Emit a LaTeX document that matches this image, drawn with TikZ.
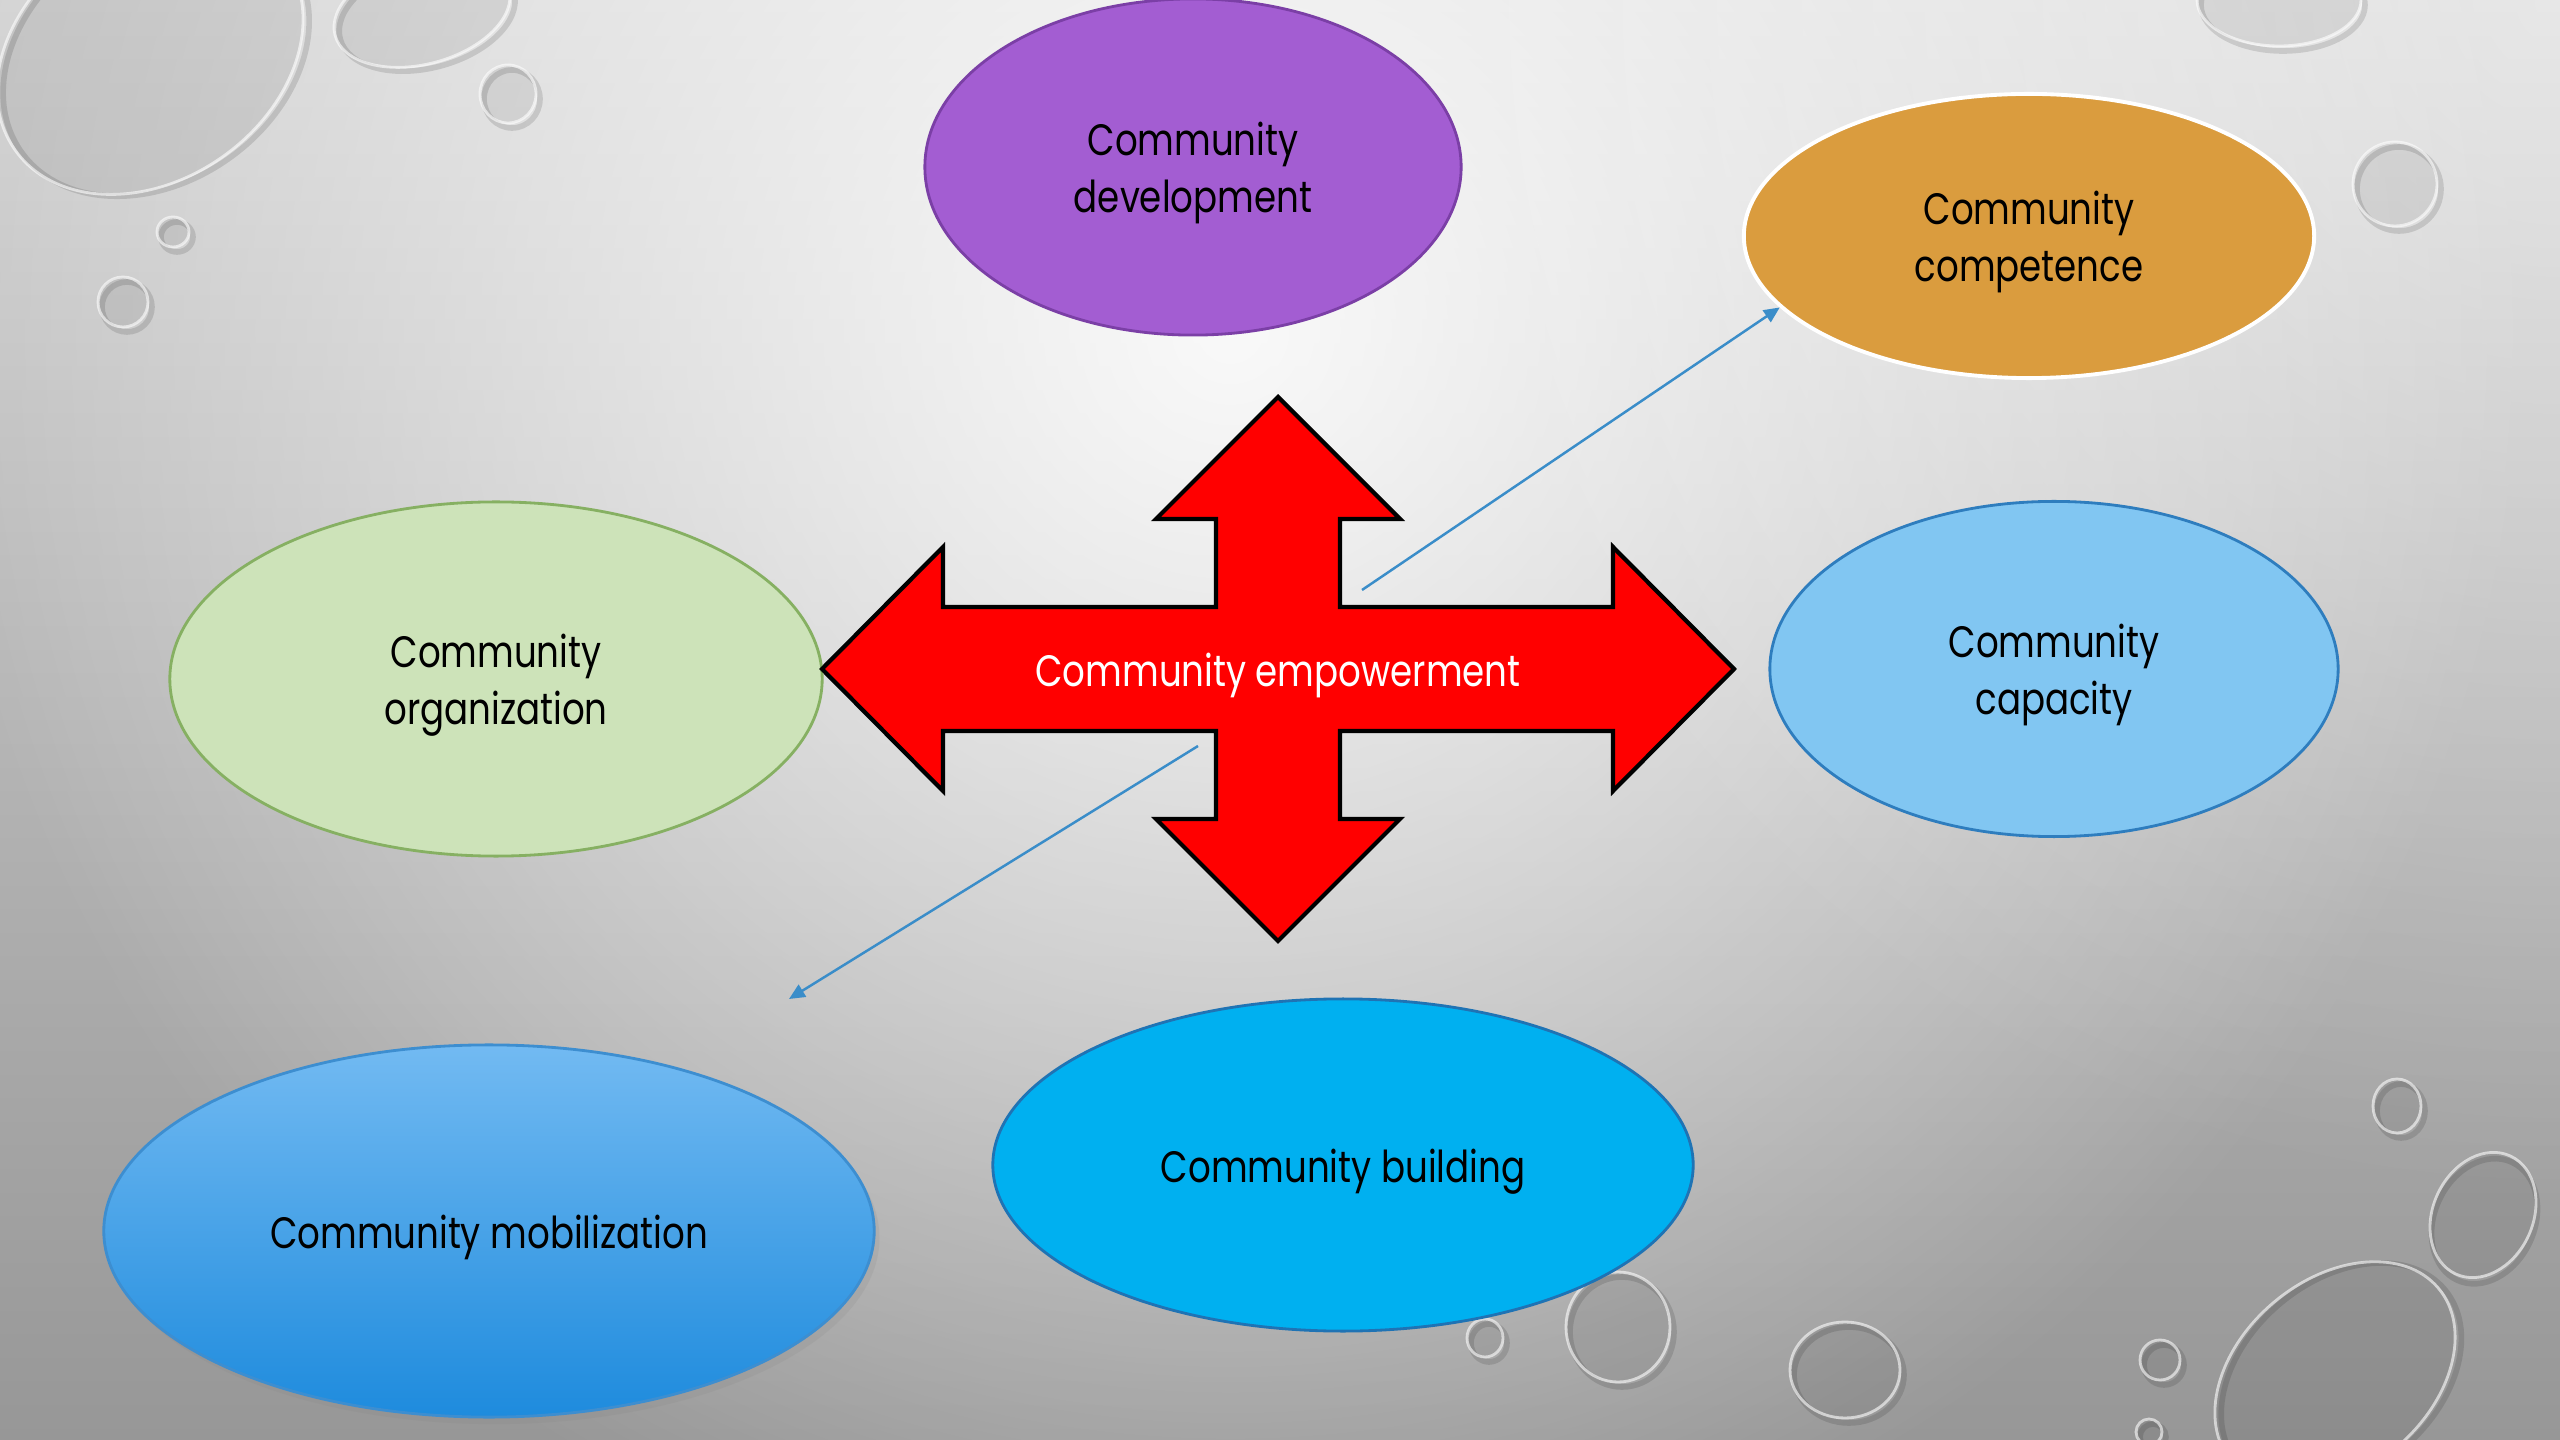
\documentclass[tikz,border=0pt]{standalone}
\usepackage{fontspec}
\setmainfont{Poppins}[FakeStretch=0.81]
\usetikzlibrary{shapes.geometric,arrows.meta,fadings,shadows}

\definecolor{devfill}{HTML}{A35DD2}
\definecolor{devline}{HTML}{7B3FA6}
\definecolor{compfill}{HTML}{DA9C3E}
\definecolor{orgfill}{HTML}{CDE3B9}
\definecolor{orgline}{HTML}{86B062}
\definecolor{capfill}{HTML}{81C6F2}
\definecolor{capline}{HTML}{2E7DBE}
\definecolor{mobtop}{HTML}{72BAF2}
\definecolor{mobbot}{HTML}{1E8BDD}
\definecolor{mobline}{HTML}{3D8ED0}
\definecolor{bldfill}{HTML}{00B0F0}
\definecolor{bldline}{HTML}{1F73B4}
\definecolor{arrowred}{HTML}{FF0000}
\definecolor{linkblue}{HTML}{3A8DC9}
\definecolor{bgtop}{HTML}{D4D4D4}
\definecolor{bgbot}{HTML}{979797}

\tikzfading[name=glow, inner color=transparent!0, outer color=transparent!100]
\newcommand{\lift}{\rule{0pt}{1.05em}}

\begin{document}
\begin{tikzpicture}[x=0.01cm,y=-0.01cm,
    bubble/.style={ellipse, draw, line width=0.8pt, inner sep=0pt, align=center,
        font=\fontsize{12.5}{16.2}\selectfont, text=black},
    drop/.style={fill=black, fill opacity=0.07, draw=white, draw opacity=0.6, line width=0.8pt},
    dropshade/.style={draw=black, draw opacity=0.12, line width=1.6pt},
    crossarrow/.style={fill=arrowred, draw=black, line width=1.2pt, line join=miter},
    link/.style={draw=linkblue, line width=0.7pt, -{Triangle[length=4.5pt,width=4pt]}}]

% background and droplets
\useasboundingbox (0,0) rectangle (2560,1440);
\begin{scope}
  \clip (0,0) rectangle (2560,1440);
  \shade[top color=bgtop, bottom color=bgbot] (0,0) rectangle (2560,1440);
  \fill[white, opacity=0.9, path fading=glow] (1230,330) circle (1300);
  \fill[white, opacity=0.45, path fading=glow] (2560,0) circle (1200);
  \foreach \cx/\cy/\rx/\ry/\rot in {150/55/165/125/35, 422/12/90/52/15, 508/94/28/29/0,
      173/232/16/15/0, 123/302/25/25/0, 2279/0/82/46/0, 2395/184/42/42/0,
      2397/1106/24/27/0, 2483/1215/50/65/-25, 2335/1375/135/95/40, 2160/1360/20/20/0,
      2149/1432/13/13/0, 1845/1370/55/48/0, 1618/1327/52/55/0, 1485/1338/18/19/0}{
    \draw[dropshade, rotate around={\rot:(\cx,\cy)}] (\cx+4,\cy+5) ellipse ({\rx} and {\ry});
    \draw[drop, rotate around={\rot:(\cx,\cy)}] (\cx,\cy) ellipse ({\rx} and {\ry});
  }
\end{scope}

% surrounding ellipses
\node[bubble, fill=devfill, draw=devline, minimum width=5.36cm, minimum height=3.36cm] (dev) at (1193,167) {\lift Community\\development};
\node[bubble, fill=compfill, draw=white, line width=1.1pt, minimum width=5.7cm, minimum height=2.84cm] (comp) at (2029,236) {\lift Community\\competence};
\node[bubble, fill=orgfill, draw=orgline, minimum width=6.52cm, minimum height=3.54cm] (org) at (496,679) {\lift Community\\organization};
\node[bubble, fill=capfill, draw=capline, minimum width=5.68cm, minimum height=3.35cm] (cap) at (2054,669) {\lift Community\\capacity};
\node[bubble, top color=mobtop, bottom color=mobbot, draw=mobline, minimum width=7.7cm, minimum height=3.72cm,
    drop shadow={opacity=0.15, shadow xshift=1.5pt, shadow yshift=-2pt}] (mob) at (489,1231) {\lift Community mobilization};
\node[bubble, fill=bldfill, draw=bldline, minimum width=7.0cm, minimum height=3.32cm] (bld) at (1343,1165) {\lift Community building};

% four-way arrow
\coordinate (hub) at (1278,669);
\draw[crossarrow, shift={(hub)}] (0,-272) -- (122,-150) -- (62,-150) -- (62,-62) -- (335,-62) -- (335,-122)
    -- (456,0) -- (335,122) -- (335,62) -- (62,62) -- (62,150) -- (122,150) -- (0,272) -- (-122,150)
    -- (-62,150) -- (-62,62) -- (-335,62) -- (-335,122) -- (-456,0) -- (-335,-122) -- (-335,-62)
    -- (-62,-62) -- (-62,-150) -- (-122,-150) -- cycle;
\node[font=\fontsize{12.5}{16.2}\selectfont, text=white] (emp) at (hub) {\lift Community empowerment};

% connectors
\coordinate (s1) at (1362,590);
\coordinate (s2) at (1198,746);
\coordinate (t2) at (789,999);
\draw[link] (s1) -- (comp.196);
\draw[link] (s2) -- (t2);
\end{tikzpicture}
\end{document}
